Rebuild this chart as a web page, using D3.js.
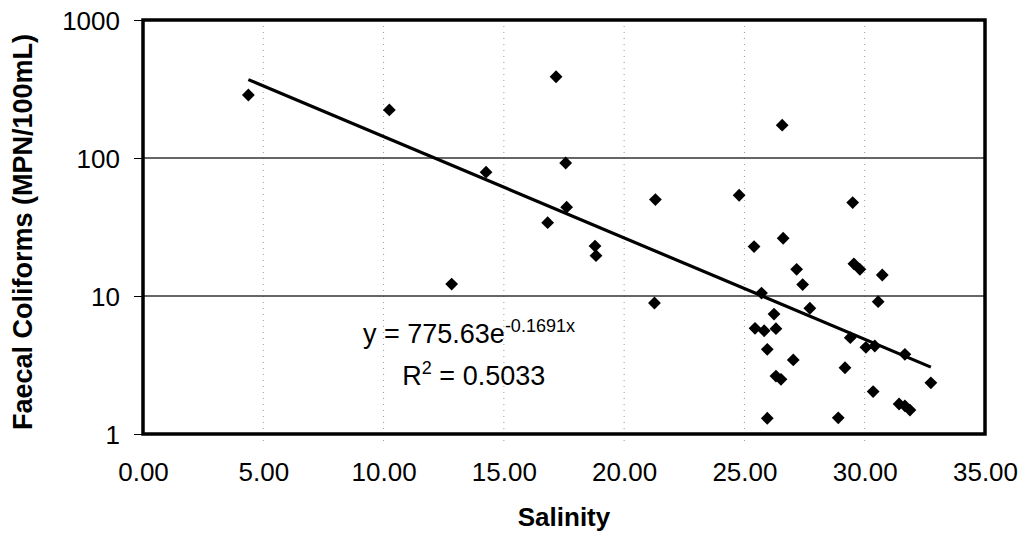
<!DOCTYPE html>
<html>
<head>
<meta charset="utf-8">
<script src="https://cdn.jsdelivr.net/npm/d3@7"></script>
<style>
	body { margin: 0; background: #fff; }
	svg { display: block; font-family: "Liberation Sans", Arial, sans-serif; }
	.tick text { fill: #000; }
</style>
</head>
<body>
<div id="chart"></div>
<script>
'use strict';

// salinity vs faecal coliforms
const salinity = [4.38, 10.24, 12.83, 14.26, 16.82, 17.17, 17.57, 17.61, 18.79, 18.83,
	21.30, 21.26, 24.78, 25.40, 25.44, 25.71, 25.82, 25.95, 25.95, 26.23,
	26.31, 26.31, 26.52, 26.57, 26.61, 27.03, 27.17, 27.42, 27.72, 28.90,
	29.18, 29.40, 29.50, 29.55, 29.80, 30.05, 30.35, 30.42, 30.56, 30.73,
	31.43, 31.67, 31.67, 31.88, 32.75];
const coliforms = [286, 223, 12.2, 79, 34, 388, 92, 44, 23, 19.6,
	50, 8.9, 53.7, 22.8, 5.83, 10.5, 5.6, 4.11, 1.30, 7.4,
	5.8, 2.63, 2.49, 173, 26.2, 3.44, 15.6, 12.1, 8.15, 1.31,
	3.02, 4.99, 47.5, 17.1, 15.6, 4.25, 2.03, 4.34, 9.1, 14.2,
	1.65, 3.78, 1.60, 1.49, 2.35];

const xTicks = [0, 5, 10, 15, 20, 25, 30, 35];
const yTicks = [1, 10, 100, 1000];
const yGrid = [10, 100];

// exponential trendline y = a * e^(b x)
const fitA = 775.63;
const fitB = -0.1691;
const r2 = "0.5033";

(function () {

	const W = 1025, H = 535;
	const margin = {top: 20, right: 40, bottom: 101, left: 143};
	const width = W - margin.left - margin.right;
	const height = H - margin.top - margin.bottom;

	const svg = d3.select("#chart").append("svg")
		.attr("width", W)
		.attr("height", H);

	const g = svg.append("g")
		.attr("transform", `translate(${margin.left},${margin.top})`);

	const x = d3.scaleLinear().domain([0, 35]).range([0, width]);
	const y = d3.scaleLog().domain([1, 1000]).range([height, 0]);

	// vertical dotted gridlines
	g.append("g")
		.selectAll("line")
		.data(xTicks.slice(1, -1))
		.enter()
		.append("line")
		.attr("x1", d => x(d))
		.attr("x2", d => x(d))
		.attr("y1", 0)
		.attr("y2", height + 7)
		.style("stroke", "#999")
		.style("stroke-width", 1)
		.style("stroke-dasharray", "1,5");

	// horizontal gridlines
	g.append("g")
		.selectAll("line")
		.data(yGrid)
		.enter()
		.append("line")
		.attr("x1", 0)
		.attr("x2", width)
		.attr("y1", d => y(d))
		.attr("y2", d => y(d))
		.style("stroke", "#333")
		.style("stroke-width", 1.3);

	// axes
	const xAxis = d3.axisBottom(x)
		.tickValues(xTicks)
		.tickFormat(d3.format(".2f"))
		.tickSize(0)
		.tickPadding(29);
	g.append("g")
		.attr("transform", `translate(0,${height})`)
		.call(xAxis)
		.call(a => a.select(".domain").remove())
		.selectAll("text")
		.style("font-size", "26px");

	const yAxis = d3.axisLeft(y)
		.tickValues(yTicks)
		.tickFormat(d3.format("d"))
		.tickSize(9)
		.tickPadding(14);
	g.append("g")
		.call(yAxis)
		.call(a => a.select(".domain").remove())
		.call(a => a.selectAll("line").style("stroke", "#000").style("stroke-width", 1))
		.selectAll("text")
		.attr("dy", "0.36em")
		.style("font-size", "26px");

	// plot frame
	g.append("rect")
		.attr("x", 0)
		.attr("y", 0)
		.attr("width", width)
		.attr("height", height)
		.style("fill", "none")
		.style("stroke", "#000")
		.style("stroke-width", 3.5);

	// trendline across the data range (straight on a log axis)
	const ext = d3.extent(salinity);
	const line = d3.line()
		.x(d => x(d))
		.y(d => y(fitA * Math.exp(fitB * d)));
	g.append("path")
		.datum(ext)
		.attr("d", line)
		.style("fill", "none")
		.style("stroke", "#000")
		.style("stroke-width", 3.2);

	// diamonds
	const pts = salinity.map((s, i) => ({s: s, v: coliforms[i]}));
	const diamond = d3.symbol().type(d3.symbolSquare).size(82);
	g.selectAll("path.pt")
		.data(pts)
		.enter()
		.append("path")
		.classed("pt", true)
		.attr("d", diamond)
		.attr("transform", d => `translate(${x(d.s)},${y(d.v)}) rotate(45)`)
		.style("fill", "#000");

	// equation text
	const eq = g.append("text")
		.attr("x", x(13.55))
		.attr("y", 323)
		.attr("text-anchor", "middle")
		.style("font-size", "27px");
	eq.append("tspan").text("y = " + fitA + "e");
	eq.append("tspan")
		.attr("dy", -11)
		.style("font-size", "18px")
		.text(fitB + "x");

	const rt = g.append("text")
		.attr("x", x(13.75))
		.attr("y", 365)
		.attr("text-anchor", "middle")
		.style("font-size", "27px");
	rt.append("tspan").text("R");
	rt.append("tspan")
		.attr("dy", -11)
		.style("font-size", "18px")
		.text("2");
	rt.append("tspan")
		.attr("dy", 11)
		.text(" = " + r2);

	// axis titles
	svg.append("text")
		.attr("x", margin.left + width / 2)
		.attr("y", 526)
		.attr("text-anchor", "middle")
		.style("font-size", "26px")
		.style("font-weight", "bold")
		.text("Salinity");

	svg.append("text")
		.attr("transform", `translate(32,${margin.top + height / 2 + 5}) rotate(-90)`)
		.attr("text-anchor", "middle")
		.style("font-size", "27px")
		.style("font-weight", "bold")
		.text("Faecal Coliforms (MPN/100mL)");

})();
</script>
</body>
</html>
